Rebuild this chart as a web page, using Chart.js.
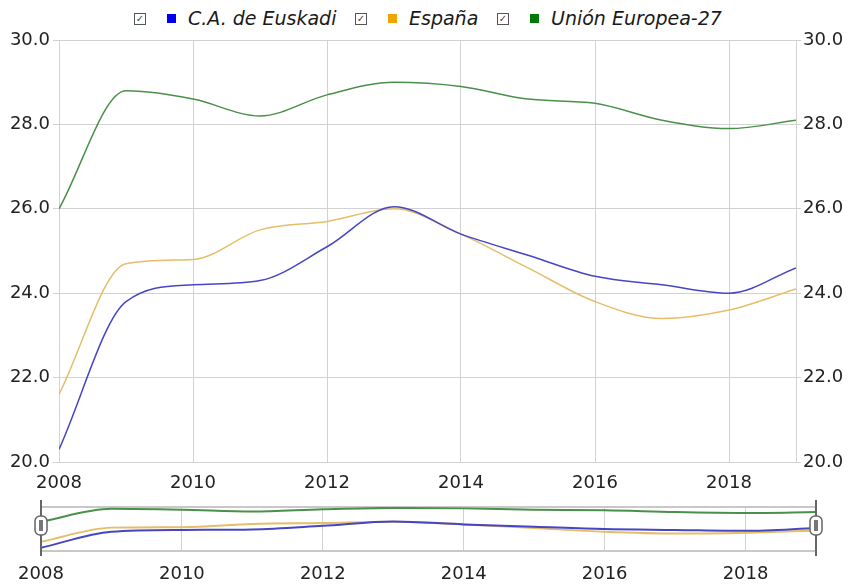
<!DOCTYPE html>
<html>
<head>
<meta charset="utf-8">
<script src="https://cdn.jsdelivr.net/npm/chart.js@4/dist/chart.umd.min.js"></script>
<style>
  body { margin: 0; background: #fff; width: 848px; height: 584px; overflow: hidden; position: relative; font-family: "DejaVu Sans", sans-serif; }
  #legend { position: absolute; top: 4px; left: 0; width: 848px; height: 28px; }
  .item { position: absolute; top: 0; height: 28px; font-style: italic; font-size: 19px; color: #1a1a1a; line-height: 28px; white-space: nowrap; }
  .chk { position: absolute; top: 9px; width: 10px; height: 10px; border: 1px solid #555; background: #fff; font-style: normal; font-size: 10px; line-height: 10px; text-align: center; color: #444; }
  .sq { position: absolute; top: 10px; width: 9px; height: 9px; }
  .lbl { position: absolute; top: 0; }
  #main { position: absolute; left: 0; top: 0; }
  #nav { position: absolute; left: 0; top: 495px; }
</style>
</head>
<body>
<div id="legend"></div>
<canvas id="main" width="848" height="500"></canvas>
<canvas id="nav" width="848" height="89"></canvas>
<script>
// years on the x axis
const years = [2008, 2009, 2010, 2011, 2012, 2013, 2014, 2015, 2016, 2017, 2018, 2019];

// series values
const euskadi = [20.3, 23.8, 24.2, 24.3, 25.1, 26.05, 25.4, 24.9, 24.4, 24.2, 24.0, 24.6];
const espana = [21.6, 24.7, 24.8, 25.5, 25.7, 26.0, 25.4, 24.6, 23.8, 23.4, 23.6, 24.1];
const ue27 = [26.0, 28.8, 28.6, 28.2, 28.7, 29.0, 28.9, 28.6, 28.5, 28.1, 27.9, 28.1];

// axis ticks
const xTicks = [2008, 2010, 2012, 2014, 2016, 2018];
const yTicks = [20, 22, 24, 26, 28, 30];

const seriesNames = ['C.A. de Euskadi', 'España', 'Unión Europea-27'];
const lineColors = ['#4646c4', '#e6bd68', '#4a904a'];
const legendColors = ['#0000ee', '#f0a400', '#007a00'];

const FONT = 'DejaVu Sans';
const gridColor = '#d2d2d2';

// HTML legend with check boxes
const legendPos = [134, 355, 497];
const legendEl = document.getElementById('legend');
seriesNames.forEach((name, i) => {
  const item = document.createElement('div');
  item.className = 'item';
  item.style.left = legendPos[i] + 'px';
  item.innerHTML = '<span class="chk">&#10003;</span>' +
    '<span class="sq" style="left:33px;background:' + legendColors[i] + '"></span>' +
    '<span class="lbl" style="left:54px">' + name + '</span>';
  legendEl.appendChild(item);
});

function makeData(width) {
  return {
    datasets: [euskadi, espana, ue27].map((vals, i) => ({
      label: seriesNames[i],
      data: vals.map((v, j) => ({ x: years[j], y: v })),
      borderColor: lineColors[i],
      borderWidth: width,
      pointRadius: 0,
      fill: false,
      cubicInterpolationMode: 'monotone'
    }))
  };
}

// main chart
new Chart(document.getElementById('main'), {
  type: 'line',
  data: makeData(1.5),
  options: {
    responsive: false,
    animation: false,
    layout: { padding: { top: 40, left: 0, right: 0, bottom: 0 } },
    plugins: { legend: { display: false }, tooltip: { enabled: false } },
    scales: {
      x: {
        type: 'linear',
        min: years[0],
        max: years[years.length - 1],
        afterBuildTicks: s => { s.ticks = xTicks.map(v => ({ value: v })); },
        afterFit: s => { s.height = 38; },
        grid: { color: gridColor, drawTicks: false },
        border: { color: gridColor },
        ticks: { padding: 11, color: '#222', font: { family: FONT, size: 18 }, callback: v => String(v) }
      },
      y: {
        position: 'left',
        min: 20,
        max: 30,
        afterBuildTicks: s => { s.ticks = yTicks.map(v => ({ value: v })); },
        afterFit: s => { s.width = 59; },
        grid: { color: gridColor, tickLength: 6 },
        border: { color: gridColor },
        ticks: { padding: 3, color: '#222', font: { family: FONT, size: 18 }, callback: v => v.toFixed(1) }
      },
      y2: {
        position: 'right',
        min: 20,
        max: 30,
        afterBuildTicks: s => { s.ticks = yTicks.map(v => ({ value: v })); },
        afterFit: s => { s.width = 52; },
        grid: { drawOnChartArea: false, color: gridColor, tickLength: 5 },
        border: { color: gridColor },
        ticks: { padding: 2, color: '#222', font: { family: FONT, size: 18 }, callback: v => v.toFixed(1) }
      }
    }
  }
});

// navigator handles
const handles = {
  id: 'handles',
  afterDraw(chart) {
    const ctx = chart.ctx;
    const a = chart.chartArea;
    const mid = (a.top + a.bottom) / 2 - 4;
    [a.left, a.right].forEach(x => {
      ctx.save();
      ctx.strokeStyle = '#666';
      ctx.lineWidth = 2;
      ctx.beginPath();
      ctx.moveTo(x, a.top - 7);
      ctx.lineTo(x, a.bottom + 5);
      ctx.stroke();
      ctx.fillStyle = '#fff';
      ctx.lineWidth = 1.5;
      ctx.beginPath();
      ctx.roundRect(x - 6, mid - 9, 12, 19, 5);
      ctx.fill();
      ctx.stroke();
      ctx.fillStyle = '#777';
      ctx.fillRect(x - 2, mid - 5, 4, 11);
      ctx.restore();
    });
  }
};

// navigator chart
new Chart(document.getElementById('nav'), {
  type: 'line',
  data: makeData(2),
  plugins: [handles],
  options: {
    responsive: false,
    animation: false,
    layout: { padding: { top: 12, left: 41, right: 32, bottom: 0 } },
    plugins: { legend: { display: false }, tooltip: { enabled: false } },
    scales: {
      x: {
        type: 'linear',
        min: years[0],
        max: years[years.length - 1],
        afterBuildTicks: s => { s.ticks = xTicks.map(v => ({ value: v })); },
        afterFit: s => { s.height = 33; },
        grid: { color: gridColor, drawTicks: false },
        border: { display: false },
        ticks: { padding: 13, color: '#222', font: { family: FONT, size: 18 }, callback: v => String(v) }
      },
      y: {
        min: 19.6,
        max: 29.2,
        afterBuildTicks: s => { s.ticks = [{ value: 19.6 }, { value: 29.2 }]; },
        afterFit: s => { s.width = 0; },
        grid: { color: '#c8c8c8', lineWidth: 2, drawTicks: false },
        border: { display: false },
        ticks: { display: false }
      }
    }
  }
});
</script>
</body>
</html>
